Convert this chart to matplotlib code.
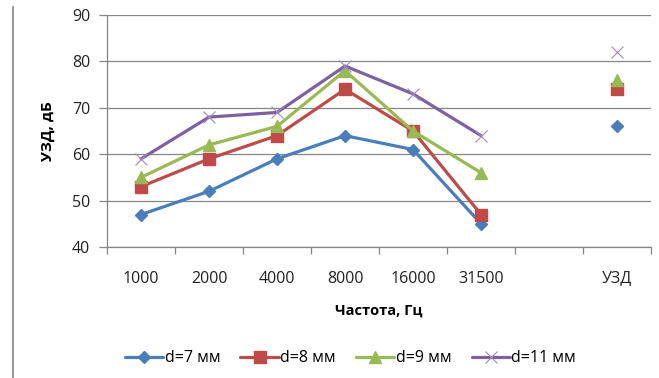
import numpy as np
import matplotlib.pyplot as plt
from matplotlib.lines import Line2D

plt.rcParams['font.family'] = ['Open Sans', 'DejaVu Sans']

# categories: six frequencies, an empty slot, then the overall level
categories = ['1000', '2000', '4000', '8000', '16000', '31500', '', 'УЗД']

d7 = [47, 52, 59, 64, 61, 45, np.nan, 66]
d8 = [53, 59, 64, 74, 65, 47, np.nan, 74]
d9 = [55, 62, 66, 78, 65, 56, np.nan, 76]
d11 = [59, 68, 69, 79, 73, 64, np.nan, 82]

series_labels = ['d=7 мм', 'd=8 мм', 'd=9 мм', 'd=11 мм']

fig = plt.figure(figsize=(6.59, 3.78), dpi=100)
ax = fig.add_axes([0.1624, 0.3466, 0.8255, 0.6137])

x = np.arange(len(categories))
grid_col = '#868686'

styles = [
    dict(color='#4A7EBB', marker='D', markersize=6.5),
    dict(color='#BE4B48', marker='s', markersize=8),
    dict(color='#98B954', marker='^', markersize=9),
    dict(color='#7D60A0', marker='x', markersize=8, markeredgewidth=0.8,
         markeredgecolor='#9F8CC0'),
]

for vals, lab, st in zip([d7, d8, d9, d11], series_labels, styles):
    ax.plot(x, vals, linewidth=2.3, label=lab, solid_capstyle='round', **st)

ax.set_xlim(-0.5, len(categories) - 0.5)
ax.set_ylim(40, 90)
ax.set_yticks(np.arange(40, 91, 10))
ax.set_xticks(x)
ax.set_xticklabels(categories)
ax.set_xticks(np.arange(-0.5, len(categories), 1), minor=True)

ax.yaxis.grid(True, color=grid_col, linewidth=0.9)
ax.set_axisbelow(True)
for s in ['top', 'right']:
    ax.spines[s].set_visible(False)
for s in ['left', 'bottom']:
    ax.spines[s].set_color(grid_col)
    ax.spines[s].set_linewidth(0.9)

ax.tick_params(axis='x', which='major', length=0, pad=17, labelsize=11.5,
               labelcolor='#222222')
ax.tick_params(axis='x', which='minor', length=5, color=grid_col, width=0.9)
ax.tick_params(axis='y', length=6, color=grid_col, width=0.9, labelsize=11.5,
               labelcolor='#222222', pad=6)

ax.set_xlabel('Частота, Гц', fontsize=10.5, fontweight='bold', labelpad=12)
ax.set_ylabel('УЗД, дБ', fontsize=11, fontweight='bold', labelpad=12)

handles, labels = ax.get_legend_handles_labels()
fig.legend(handles, labels, loc='center', bbox_to_anchor=(0.532, 0.052), ncol=4,
           frameon=False, fontsize=11.5, handlelength=2.4, handletextpad=0.1,
           columnspacing=1.25)

# thin vertical rule along the left edge
fig.add_artist(Line2D([0.0195, 0.0195], [0.0, 0.982], color='#8c8c8c',
                      linewidth=1.3, transform=fig.transFigure))

fig.savefig('out.png', dpi=100)
